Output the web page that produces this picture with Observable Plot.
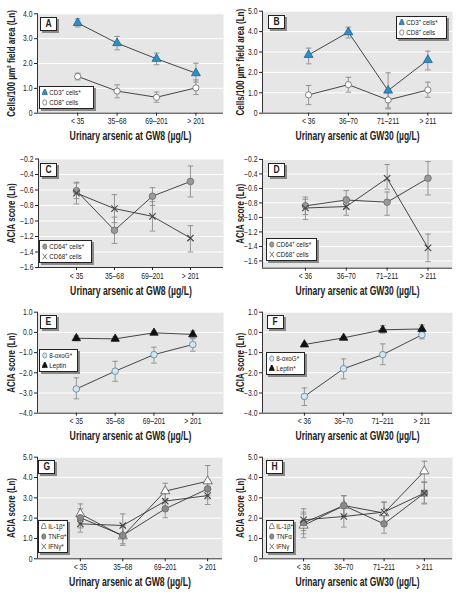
<!DOCTYPE html>
<html><head><meta charset="utf-8">
<script src="https://cdn.jsdelivr.net/npm/d3@7"></script>
<script src="https://cdn.jsdelivr.net/npm/@observablehq/plot@0.6"></script>
<style>
body{margin:0;background:#fff;}
#wrap{position:relative;width:459px;height:592px;font-family:"Liberation Sans",Arial,sans-serif;color:#222;}
.pan{position:absolute;}
.lbl{position:absolute;background:#fff;border:1px solid #222;box-shadow:2px 2px 0 #8a8a8a;font-weight:bold;font-size:10px;text-align:center;line-height:12px;width:15px;height:12px;}
.lbl span{display:inline-block;transform:scaleX(0.85);}
.leg{position:absolute;background:#fff;border:1px solid #222;box-shadow:2px 2px 0 #8a8a8a;font-size:7.8px;line-height:10px;padding:1px 0 0 2px;white-space:nowrap;color:#222;overflow:hidden;box-sizing:border-box;}
.leg .in{transform:scaleX(0.8);transform-origin:0 0;}
.leg svg{vertical-align:-1px;margin-right:2px;}
sup{font-size:5px;vertical-align:3px;line-height:0;}
</style></head><body><div id="wrap"></div>
<script>
// ---- categories ----
const catsGW8 = ["< 35", "35–68", "69–201", "> 201"];
const catsGW30 = ["< 36", "36–70", "71–211", "> 211"];

// ---- y tick values / labels ----
const ytAB = [0, 1, 2, 3, 4], ytlA = ["0", "1.0", "2.0", "3.0", "4.0"];
const ytB = [0, 1, 2, 3, 4, 5], ytlB = ["0", "1.0", "2.0", "3.0", "4.0", "5.0"];
const ytCD = [-1.6, -1.4, -1.2, -1.0, -0.8, -0.6, -0.4, -0.2];
const ytlCD = ["−1.6", "−1.4", "−1.2", "−1.0", "−0.8", "−0.6", "−0.4", "−0.2"];
const ytEF = [-4, -3, -2, -1, 0, 1], ytlEF = ["−4.0", "−3.0", "−2.0", "−1.0", "0.0", "1.0"];
const ytGH = [0, 1, 2, 3, 4, 5], ytlGH = ["0", "1.0", "2.0", "3.0", "4.0", "5.0"];

// ---- Panel A ----
const cd3A = [3.63, 2.82, 2.19, 1.61], cd3A_lo = [3.47, 2.55, 1.95, 1.25], cd3A_hi = [3.80, 3.09, 2.42, 2.01];
const cd8A = [1.48, 0.89, 0.64, 1.02], cd8A_lo = [1.34, 0.62, 0.44, 0.75], cd8A_hi = [1.61, 1.14, 0.85, 1.34];
// ---- Panel B ----
const cd3B = [2.86, 3.97, 1.11, 2.61], cd3B_lo = [2.42, 3.69, 0.26, 2.12], cd3B_hi = [3.19, 4.22, 1.98, 3.04];
const cd8B = [0.90, 1.40, 0.65, 1.14], cd8B_lo = [0.42, 1.03, 0.21, 0.78], cd8B_hi = [1.36, 1.76, 1.11, 1.52];
// ---- Panel C ----
const cd64C = [-0.61, -1.12, -0.68, -0.49], cd64C_lo = [-0.71, -1.29, -0.80, -0.69], cd64C_hi = [-0.51, -0.95, -0.57, -0.29];
const cd68C = [-0.64, -0.84, -0.94, -1.22], cd68C_lo = [-0.78, -1.02, -1.13, -1.40], cd68C_hi = [-0.50, -0.66, -0.75, -1.06];
// ---- Panel D ----
const cd64D = [-0.84, -0.76, -0.79, -0.46], cd64D_lo = [-0.96, -0.88, -0.97, -0.69], cd64D_hi = [-0.72, -0.63, -0.65, -0.23];
const cd68D = [-0.87, -0.85, -0.46, -1.42], cd68D_lo = [-1.03, -0.97, -0.61, -1.61], cd68D_hi = [-0.75, -0.72, -0.27, -1.23];
// ---- Panel E ----
const oxoE = [-2.80, -1.92, -1.10, -0.60], oxoE_lo = [-3.29, -2.42, -1.52, -0.93], oxoE_hi = [-2.25, -1.43, -0.73, -0.32];
const lepE = [-0.29, -0.32, -0.02, -0.10], lepE_lo = [-0.41, -0.42, -0.10, -0.27], lepE_hi = [-0.17, -0.22, 0.06, 0.07];
// ---- Panel F ----
const oxoF = [-3.17, -1.80, -1.10, -0.12], oxoF_lo = [-3.62, -2.30, -1.60, -0.32], oxoF_hi = [-2.75, -1.31, -0.57, 0.09];
const lepF = [-0.60, -0.27, 0.13, 0.17], lepF_lo = [-0.66, -0.33, -0.04, -0.04], lepF_hi = [-0.54, -0.21, 0.34, 0.37];
// ---- Panel G ----
const ilG = [2.21, 1.11, 3.33, 3.82], ilG_lo = [1.72, 0.66, 2.95, 3.11], ilG_hi = [2.70, 1.64, 3.72, 4.59];
const tnfG = [2.02, 1.15, 2.46, 3.44], tnfG_lo = [1.52, 0.74, 2.02, 2.95], tnfG_hi = [2.46, 1.56, 2.87, 3.89];
const ifnG = [1.72, 1.64, 2.84, 3.11], ifnG_lo = [1.31, 1.07, 2.38, 2.67], ifnG_hi = [2.13, 2.21, 3.28, 3.52];
// ---- Panel H ----
const ilH = [1.64, 2.62, 2.25, 4.31], ilH_lo = [1.03, 2.08, 1.72, 3.77], ilH_hi = [2.20, 3.11, 2.79, 4.80];
const tnfH = [1.77, 2.62, 1.72, 3.23], tnfH_lo = [1.23, 2.13, 1.26, 2.74], tnfH_hi = [2.30, 3.10, 2.13, 3.77];
const ifnH = [1.92, 2.08, 2.30, 3.23], ifnH_lo = [1.39, 1.56, 1.80, 2.70], ifnH_hi = [2.46, 2.62, 2.79, 3.77];

// ---- marker styles ----
const ST = {
  cd3: {sym: "triangle", fill: "#2f8fc4", stroke: "#1d6390", r: 3.3},
  cd8: {sym: "circle", fill: "#ffffff", stroke: "#666", r: 3.1},
  cd64: {sym: "circle", fill: "#9a9a9a", stroke: "#6a6a6a", r: 3.3},
  cd68: {sym: "times", fill: "none", stroke: "#444", r: 3.0},
  oxo: {sym: "circle", fill: "#cfe7f3", stroke: "#607f92", r: 3.3},
  lep: {sym: "triangle", fill: "#111", stroke: "#111", r: 3.1},
  il: {sym: "triangle", fill: "#fff", stroke: "#555", r: 3.4},
  tnf: {sym: "circle", fill: "#8a8a8a", stroke: "#666", r: 3.3},
  ifn: {sym: "times", fill: "none", stroke: "#444", r: 3.0}
};
const d3sym = {triangle: d3.symbolTriangle, circle: d3.symbolCircle, times: d3.symbolTimes};
const capSym = {draw(ctx, size) { const w = Math.sqrt(size / Math.PI); ctx.moveTo(-w, 0); ctx.lineTo(w, 0); }};

const FONT = '"Liberation Sans",Arial,sans-serif';
const wrap = document.getElementById("wrap");

function rowsOf(v, lo, hi) { return v.map((d, i) => ({i, v: d, lo: lo[i], hi: hi[i]})); }

function legendSym(st, size) {
  const p = d3.symbol(d3sym[st.sym], size)();
  return `<svg width="7" height="7" viewBox="-3.5 -3.5 7 7"><path d="${p}" fill="${st.fill}" stroke="${st.stroke}" stroke-width="0.8"/></svg>`;
}

// squeeze a text horizontally (along its own direction) to mimic the narrow typeface
function condense(t, f) {
  const tr = t.getAttribute("transform");
  if (tr && /translate/.test(tr)) t.setAttribute("transform", tr + ` scale(${f},1)`);
  else { const L = t.getComputedTextLength(); if (L > 0) { t.setAttribute("textLength", L * f); t.setAttribute("lengthAdjust", "spacingAndGlyphs"); } }
}

function panel(c) {
  const mL = c.gL - c.ox, mR = c.ox + c.w - c.gR, mT = c.gT - c.oy, mB = c.oy + c.h - c.gB;
  const marks = [
    Plot.frame({fill: "#e6e6e6", stroke: null}),
    Plot.gridY(c.yt, {stroke: "#fff", strokeOpacity: 1, strokeWidth: 1}),
    Plot.ruleX([c.xd[0]], {stroke: "#333", strokeWidth: 1}),
    Plot.ruleY([c.yd[0]], {stroke: "#333", strokeWidth: 1}),
    Plot.axisY({ticks: c.yt, tickFormat: d => c.ytl[c.yt.indexOf(d)], tickSize: 3, tickPadding: 2, fontSize: 8.5, label: null}),
    Plot.axisX({ticks: [0, 1, 2, 3], tickFormat: d => c.cats[d], tickSize: 3, tickPadding: 2, fontSize: 8.5, label: null}),
    Plot.text([c.xTitle], {frameAnchor: "bottom", dy: 23, fontSize: 12.5, fontWeight: "bold", textAnchor: "middle", lineAnchor: "middle"}),
    Plot.text([c.yTitle], {frameAnchor: "left", dx: c.ox + 11 - c.gL, rotate: -90, fontSize: 11, fontWeight: "bold", textAnchor: "middle", lineAnchor: "middle"})
  ];
  const sers = c.series.map(s => ({rows: rowsOf(s.v, s.lo, s.hi), st: s.st}));
  for (const s of sers) {
    marks.push(Plot.ruleX(s.rows, {x: "i", y1: "lo", y2: "hi", stroke: "#8c8c8c", strokeWidth: 0.9}));
    marks.push(Plot.dot(s.rows, {x: "i", y: "lo", symbol: capSym, r: 2.8, stroke: "#8c8c8c", fill: "none", strokeWidth: 0.9}));
    marks.push(Plot.dot(s.rows, {x: "i", y: "hi", symbol: capSym, r: 2.8, stroke: "#8c8c8c", fill: "none", strokeWidth: 0.9}));
  }
  for (const s of sers) marks.push(Plot.line(s.rows, {x: "i", y: "v", stroke: "#333", strokeWidth: 0.9}));
  for (const s of sers) marks.push(Plot.dot(s.rows, {x: "i", y: "v", symbol: s.st.sym, r: s.st.r, fill: s.st.fill, stroke: s.st.stroke, strokeWidth: s.st.sym === "times" ? 1.1 : 0.8}));
  const svg = Plot.plot({
    width: c.w, height: c.h, marginLeft: mL, marginRight: mR, marginTop: mT, marginBottom: mB,
    x: {type: "linear", domain: c.xd}, y: {domain: c.yd},
    style: {fontFamily: FONT, color: "#222", background: "transparent", overflow: "visible"},
    marks
  });
  const holder = document.createElement("div");
  holder.className = "pan";
  holder.style.left = c.ox + "px"; holder.style.top = c.oy + "px";
  holder.appendChild(svg);
  wrap.appendChild(holder);
  svg.querySelectorAll("text").forEach(t => {
    const s = t.textContent, L = t.getComputedTextLength();
    if (!(L > 0)) return;
    if (s === c.xTitle) condense(t, c.xTitleW / L);
    else if (s === c.yTitle) condense(t, c.yTitleW / L);
    else condense(t, 0.8);
  });
  const lb = document.createElement("div");
  lb.className = "lbl"; lb.innerHTML = `<span>${c.letter}</span>`;
  lb.style.left = c.lbl[0] + "px"; lb.style.top = c.lbl[1] + "px";
  wrap.appendChild(lb);
  const lg = document.createElement("div");
  lg.className = "leg";
  lg.style.left = c.leg[0] + "px"; lg.style.top = c.leg[1] + "px"; lg.style.width = c.leg[2] + "px";
  lg.innerHTML = `<div class="in">` + c.series.map(s => `<div>${legendSym(s.st, 22)}${s.name}</div>`).join("") + `</div>`;
  wrap.appendChild(lg);
}

const T8 = "Urinary arsenic at GW8 (µg/L)", T30 = "Urinary arsenic at GW30 (µg/L)";
const YC = "Cells/100 µm² field area (Ln)", YA = "ACIA score (Ln)";

panel({ox: 0, oy: 0, w: 229, h: 145, gL: 37, gR: 223, gT: 13.3, gB: 112.7, xd: [-1.02, 3.70], yd: [0, 4], yt: ytAB, ytl: ytlA,
  cats: catsGW8, xTitle: T8, xTitleW: 122, yTitle: YC, yTitleW: 107, letter: "A", lbl: [40, 17], leg: [39, 86, 55],
  series: [{v: cd3A, lo: cd3A_lo, hi: cd3A_hi, st: ST.cd3, name: "CD3<sup>+</sup> cells*"},
           {v: cd8A, lo: cd8A_lo, hi: cd8A_hi, st: ST.cd8, name: "CD8<sup>+</sup> cells"}]});
panel({ox: 229, oy: 0, w: 230, h: 145, gL: 262, gR: 452, gT: 10.7, gB: 112.7, xd: [-1.16, 3.62], yd: [0, 5], yt: ytB, ytl: ytlB,
  cats: catsGW30, xTitle: T30, xTitleW: 124, yTitle: YC, yTitleW: 107, letter: "B", lbl: [268, 15], leg: [396, 16, 51],
  series: [{v: cd3B, lo: cd3B_lo, hi: cd3B_hi, st: ST.cd3, name: "CD3<sup>+</sup> cells*"},
           {v: cd8B, lo: cd8B_lo, hi: cd8B_hi, st: ST.cd8, name: "CD8<sup>+</sup> cells"}]});
panel({ox: 0, oy: 145, w: 229, h: 145, gL: 38, gR: 223, gT: 158.5, gB: 267, xd: [-1.0, 3.87], yd: [-1.6, -0.2], yt: ytCD, ytl: ytlCD,
  cats: catsGW8, xTitle: T8, xTitleW: 122, yTitle: YA, yTitleW: 60, letter: "C", lbl: [40, 163], leg: [39, 240, 53],
  series: [{v: cd64C, lo: cd64C_lo, hi: cd64C_hi, st: ST.cd64, name: "CD64<sup>+</sup> cells*"},
           {v: cd68C, lo: cd68C_lo, hi: cd68C_hi, st: ST.cd68, name: "CD68<sup>+</sup> cells"}]});
panel({ox: 229, oy: 145, w: 230, h: 145, gL: 262, gR: 452, gT: 158.9, gB: 267.7, xd: [-1.05, 3.6], yd: [-1.7, -0.2], yt: ytCD, ytl: ytlCD,
  cats: catsGW30, xTitle: T30, xTitleW: 124, yTitle: YA, yTitleW: 60, letter: "D", lbl: [268, 163], leg: [266, 238, 51],
  series: [{v: cd64D, lo: cd64D_lo, hi: cd64D_hi, st: ST.cd64, name: "CD64<sup>+</sup> cells*"},
           {v: cd68D, lo: cd68D_lo, hi: cd68D_hi, st: ST.cd68, name: "CD68<sup>+</sup> cells"}]});
panel({ox: 0, oy: 290, w: 229, h: 145, gL: 37, gR: 223, gT: 311.7, gB: 412.7, xd: [-1.0, 3.79], yd: [-4, 1], yt: ytEF, ytl: ytlEF,
  cats: catsGW8, xTitle: T8, xTitleW: 122, yTitle: YA, yTitleW: 60, letter: "E", lbl: [40, 315], leg: [39, 349, 39],
  series: [{v: oxoE, lo: oxoE_lo, hi: oxoE_hi, st: ST.oxo, name: "8-oxoG*"},
           {v: lepE, lo: lepE_lo, hi: lepE_hi, st: ST.lep, name: "Leptin"}]});
panel({ox: 229, oy: 290, w: 230, h: 145, gL: 262, gR: 452, gT: 311.7, gB: 412.7, xd: [-1.07, 3.78], yd: [-4, 1], yt: ytEF, ytl: ytlEF,
  cats: catsGW30, xTitle: T30, xTitleW: 124, yTitle: YA, yTitleW: 60, letter: "F", lbl: [267, 315], leg: [266, 352, 39],
  series: [{v: oxoF, lo: oxoF_lo, hi: oxoF_hi, st: ST.oxo, name: "8-oxoG*"},
           {v: lepF, lo: lepF_lo, hi: lepF_hi, st: ST.lep, name: "Leptin*"}]});
panel({ox: 0, oy: 440, w: 229, h: 152, gL: 37, gR: 222, gT: 456.7, gB: 558.3, xd: [-1.01, 3.35], yd: [0, 5], yt: ytGH, ytl: ytlGH,
  cats: catsGW8, xTitle: T8, xTitleW: 122, yTitle: YA, yTitleW: 60, letter: "G", lbl: [38, 460], leg: [38, 520, 30],
  series: [{v: ilG, lo: ilG_lo, hi: ilG_hi, st: ST.il, name: "IL-1β*"},
           {v: tnfG, lo: tnfG_lo, hi: tnfG_hi, st: ST.tnf, name: "TNFα*"},
           {v: ifnG, lo: ifnG_lo, hi: ifnG_hi, st: ST.ifn, name: "IFNγ*"}]});
panel({ox: 229, oy: 440, w: 230, h: 152, gL: 262, gR: 452, gT: 456.7, gB: 558.3, xd: [-1.02, 3.70], yd: [0, 5], yt: ytGH, ytl: ytlGH,
  cats: catsGW30, xTitle: T30, xTitleW: 124, yTitle: YA, yTitleW: 60, letter: "H", lbl: [266, 460], leg: [266, 520, 28],
  series: [{v: ilH, lo: ilH_lo, hi: ilH_hi, st: ST.il, name: "IL-1β*"},
           {v: tnfH, lo: tnfH_lo, hi: tnfH_hi, st: ST.tnf, name: "TNFα"},
           {v: ifnH, lo: ifnH_lo, hi: ifnH_hi, st: ST.ifn, name: "IFNγ"}]});
</script></body></html>
